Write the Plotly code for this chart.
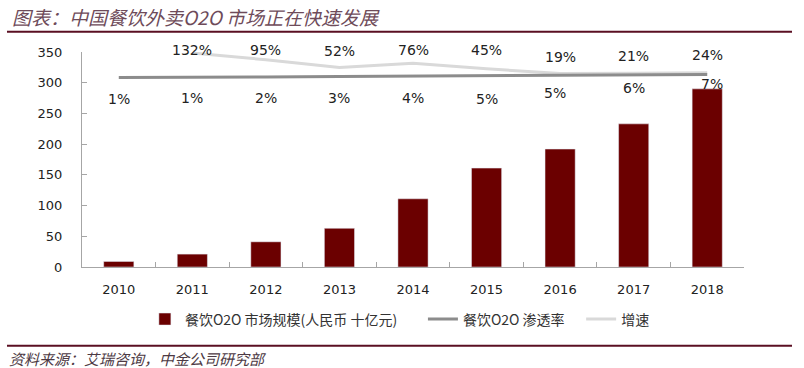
import plotly.graph_objects as go

years = ["2010", "2011", "2012", "2013", "2014", "2015", "2016", "2017", "2018"]
market_size = [9, 21, 41, 63, 111, 161, 192, 233, 290]          # 人民币 十亿元
penetration = [1, 1, 2, 3, 4, 5, 5, 6, 7]                        # %
growth = [None, 132, 95, 52, 76, 45, 19, 21, 24]                # %
y_ticks = [0, 50, 100, 150, 200, 250, 300, 350]

title_text = "图表：中国餐饮外卖O2O 市场正在快速发展"
source_text = "资料来源：艾瑞咨询，中金公司研究部"
name_bar = "餐饮O2O 市场规模(人民币 十亿元)"
name_pen = "餐饮O2O 渗透率"
name_gro = "增速"

LAT = "DejaVu Sans, Verdana, sans-serif"
CJK = "Noto Sans CJK SC, sans-serif"
MAROON = "#6b0000"

fig = go.Figure()
fig.add_trace(go.Bar(x=years, y=market_size, name=name_bar, marker_color=MAROON,
                     legend="legend"))
fig.add_trace(go.Scatter(x=years, y=penetration, name=name_pen, mode="lines",
                         line=dict(color="#8c8c8c", width=3), yaxis="y3",
                         legend="legend2"))
fig.add_trace(go.Scatter(x=years, y=growth, name=name_gro, mode="lines",
                         line=dict(color="#d9d9d9", width=3), yaxis="y2",
                         legend="legend3"))

# data labels (vertical offsets in px, style only); x given as category index
gro_shift = [0, 3, 10, 17, 13, 19, 17, 17, 18]
pen_shift = [-21, -20.5, -21, -21.5, -22, -23, -17, -13, -9]
pen_xshift = [0, 0, 0, 0, 0, 0, -5, 0, 5]
for i, yr in enumerate(years):
    if growth[i] is not None:
        fig.add_annotation(x=i, y=growth[i], yref="y2", text=f"{growth[i]}%",
                           showarrow=False, yshift=gro_shift[i],
                           font=dict(family=LAT, size=14, color="#222"))
    fig.add_annotation(x=i, y=penetration[i], yref="y3", text=f"{penetration[i]}%",
                       showarrow=False, yshift=pen_shift[i], xshift=pen_xshift[i],
                       font=dict(family=LAT, size=14, color="#222"))

fig.add_annotation(xref="paper", yref="paper", x=-0.109, y=1.163, xanchor="left",
                   yanchor="middle", text=title_text, showarrow=False,
                   font=dict(family=CJK, size=19, color="#6e4b5a", style="italic"))
fig.add_annotation(xref="paper", yref="paper", x=-0.113, y=-0.424, xanchor="left",
                   yanchor="middle", text=source_text, showarrow=False,
                   font=dict(family=CJK, size=15, color="#4d3a44", style="italic"))

fig.add_shape(type="line", xref="paper", yref="paper", x0=-0.1133, x1=1.0725,
              y0=1.0944, y1=1.0944, line=dict(color="#5a0f22", width=2))
fig.add_shape(type="line", xref="paper", yref="paper", x0=-0.1133, x1=1.0725,
              y0=-0.366, y1=-0.366, line=dict(color="#5a0f22", width=2))

leg_common = dict(orientation="h", yanchor="middle", y=-0.244, xanchor="left",
                  bgcolor="rgba(0,0,0,0)", itemwidth=30,
                  font=dict(family=CJK, size=14, color="#333"))

fig.update_layout(
    width=804, height=368,
    margin=dict(l=82, r=60, t=52, b=101),
    paper_bgcolor="white", plot_bgcolor="white",
    bargap=0.59,
    showlegend=True,
    legend=dict(x=0.095, **leg_common),
    legend2=dict(x=0.515, **leg_common),
    legend3=dict(x=0.754, **leg_common),
    xaxis=dict(type="category", range=[-0.5, len(years) - 0.5], autorange=False,
               showline=True, linecolor="#a6a6a6", linewidth=1,
               ticks="inside", tickson="boundaries", ticklen=5, tickcolor="#a6a6a6",
               showgrid=False, ticklabelstandoff=10, automargin=False,
               tickfont=dict(family=LAT, size=13, color="#222")),
    yaxis=dict(range=[0, 350], tickvals=y_ticks, showline=True, linecolor="#a6a6a6",
               linewidth=1, ticks="inside", ticklen=5, tickcolor="#a6a6a6",
               showgrid=False, zeroline=False, ticklabelstandoff=16, automargin=False,
               tickfont=dict(family=LAT, size=13, color="#222")),
    yaxis2=dict(overlaying="y", range=[-1045, 137.5], visible=False),
    yaxis3=dict(overlaying="y", range=[-378, 52], visible=False),
)

fig.write_html("out.html", config={"displayModeBar": False},
               post_script="document.body.style.margin='0';")
